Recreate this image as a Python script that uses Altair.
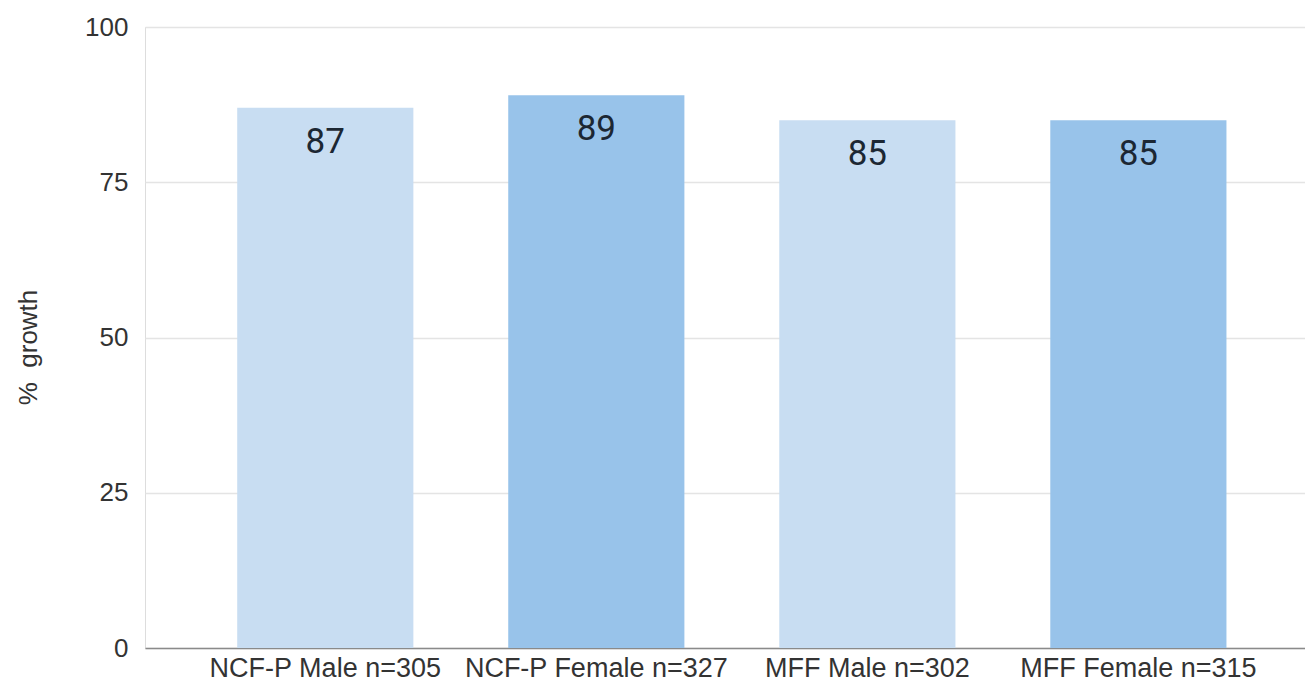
import altair as alt
import pandas as pd

categories = ["NCF-P Male n=305", "NCF-P Female n=327", "MFF Male n=302", "MFF Female n=315"]
values = [87, 89, 85, 85]
groups = ["Male", "Female", "Male", "Female"]

df = pd.DataFrame({"cat": categories, "val": values, "grp": groups})

x = alt.X("cat:N", sort=categories, title=None,
          scale=alt.Scale(paddingInner=0.35, paddingOuter=0.315, align=0.54),
          axis=alt.Axis(labelAngle=0, labelFontSize=27, labelColor="#333333",
                        labelFont="Liberation Sans", ticks=False, labelPadding=7,
                        labelLimit=0, labelOverlap=False,
                        domainColor="#8a8a8a", domainWidth=1.5, grid=False))
y = alt.Y("val:Q", title="%\u00a0 growth",
          scale=alt.Scale(domain=[0, 100], nice=False),
          axis=alt.Axis(values=[0, 25, 50, 75, 100], labelFontSize=26, labelColor="#333333",
                        labelFont="Liberation Sans", ticks=False, domain=False, labelPadding=17,
                        gridColor="#e4e4e4", gridWidth=1.5,
                        titleFont="Liberation Sans", titleFontSize=26, titleFontWeight="normal",
                        titleColor="#333333", titlePadding=43, titleY=320))

bars = alt.Chart(df).mark_bar().encode(
    x=x, y=y,
    color=alt.Color("grp:N", scale=alt.Scale(domain=["Male", "Female"], range=["#c8ddf2", "#98c3ea"]), legend=None),
)
text = alt.Chart(df).mark_text(baseline="alphabetic", dy=45, fontSize=35, color="#1c2733", font="Roboto").encode(
    x=alt.X("cat:N", sort=categories), y="val:Q", text="val:Q"
)

chart = (bars + text).properties(
    width=1160, height=621,
    autosize=alt.AutoSizeParams(type="none"),
    padding={"left": 137, "top": 19, "right": 0, "bottom": 36},
).configure_view(stroke=None).configure(background="white")

chart.save("out.html", embed_options={"renderer": "svg", "actions": False})
